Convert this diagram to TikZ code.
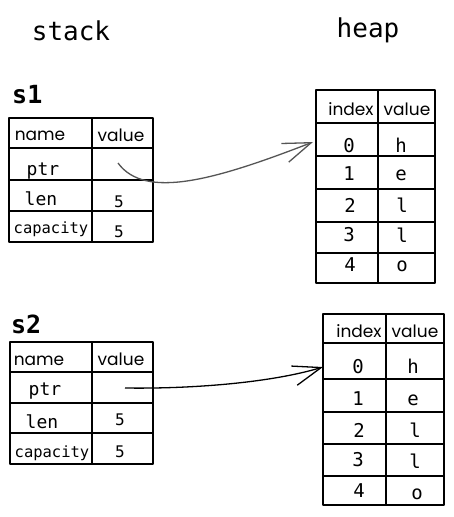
\documentclass[tikz,border=0pt]{standalone}
\usepackage{fontspec}
\setmonofont{DejaVu Sans Mono}
\newfontfamily\handfont{Poppins}
\usetikzlibrary{arrows.meta}
\definecolor{arrowgray}{RGB}{85,85,85}
\tikzset{
  grid/.style={line width=1.2pt, line join=round},
  thick sep/.style={line width=2pt},
  hand/.style={font=\handfont\fontsize{17}{17}\selectfont, anchor=base, inner sep=0pt},
  code/.style={font=\ttfamily\fontsize{18}{18}\selectfont, anchor=base, inner sep=0pt},
  codesmall/.style={font=\ttfamily\fontsize{15.5}{15.5}\selectfont, anchor=base, inner sep=0pt},
  num/.style={font=\ttfamily\fontsize{16}{16}\selectfont, anchor=base, inner sep=0pt},
  heapnum/.style={font=\ttfamily\fontsize{19}{19}\selectfont, anchor=base, inner sep=0pt},
  title/.style={font=\ttfamily\fontsize{26}{26}\selectfont, anchor=base, inner sep=0pt},
  varname/.style={font=\ttfamily\bfseries\fontsize{25}{25}\selectfont, anchor=base west, inner sep=0pt},
  ptrarrow/.style={line width=1.3pt, -{Straight Barb[length=28pt, width=20pt, line width=1.3pt]}},
}
\begin{document}
\begin{tikzpicture}[x=1pt, y=-1pt]
\useasboundingbox (0,0) rectangle (454,517);
\fill[white] (0,0) rectangle (454,517);

% titles
\node[title] (stack) at (71,40) {stack};
\node[title] (heap) at (368,37) {heap};
\node[varname] (s1) at (12,103) {s1};
\node[varname] (s2) at (11,333) {s2};

% ---------- stack table s1 ----------
\draw[grid] (9,118) rectangle (153,242);
\draw[grid] (92,118) -- (92,242);
\draw[grid] (9,148) -- (153,148);
\draw[grid] (9,180) -- (153,180);
\draw[grid] (9,211) -- (153,211);
\node[hand] (s1hn) at (40,140) {name};
\node[hand] (s1hv) at (121,141) {value};
\node[code] (s1ptr) at (43,175) {ptr};
\node[code] (s1len) at (41,205) {len};
\node[codesmall] (s1cap) at (51,233) {capacity};
\node[num] (s1lenv) at (119,207) {5};
\node[num] (s1capv) at (119,237) {5};

% ---------- stack table s2 ----------
\draw[grid] (10,342) rectangle (153,464);
\draw[grid] (92,342) -- (92,464);
\draw[grid] (10,372) -- (153,372);
\draw[grid] (10,403) -- (153,403);
\draw[grid] (10,433) -- (153,433);
\node[hand] (s2hn) at (39,365) {name};
\node[hand] (s2hv) at (121,365) {value};
\node[code] (s2ptr) at (45,395) {ptr};
\node[code] (s2len) at (42,428) {len};
\node[codesmall] (s2cap) at (52,457) {capacity};
\node[num] (s2lenv) at (120,425) {5};
\node[num] (s2capv) at (120,457) {5};

% ---------- heap table 1 ----------
\draw[grid] (316,90) rectangle (435,283);
\draw[grid] (378,90) -- (378,283);
\draw[grid, thick sep] (316,123) -- (435,123);
\draw[grid] (316,156) -- (435,156);
\draw[grid] (316,189) -- (435,189);
\draw[grid] (316,222) -- (435,222);
\draw[grid] (316,253) -- (435,253);
\node[hand] (h1hi) at (351,115) {index};
\node[hand] (h1hv) at (407,115) {value};
\node[heapnum] (h1i0) at (349,152) {0};
\node[heapnum] (h1i1) at (349,180) {1};
\node[heapnum] (h1i2) at (350,212) {2};
\node[heapnum] (h1i3) at (349,241) {3};
\node[heapnum] (h1i4) at (350,271) {4};
\node[heapnum] (h1v0) at (401,152) {h};
\node[heapnum] (h1v1) at (401,180) {e};
\node[heapnum] (h1v2) at (402,212) {l};
\node[heapnum] (h1v3) at (402,242) {l};
\node[heapnum] (h1v4) at (402,271) {o};

% ---------- heap table 2 ----------
\draw[grid] (323,314) rectangle (444,505);
\draw[grid] (386,314) -- (386,505);
\draw[grid, thick sep] (323,343) -- (444,343);
\draw[grid] (323,379) -- (444,379);
\draw[grid] (323,412) -- (444,412);
\draw[grid] (323,444) -- (444,444);
\draw[grid] (323,476) -- (444,476);
\node[hand] (h2hi) at (359,337) {index};
\node[hand] (h2hv) at (415,337) {value};
\node[heapnum] (h2i0) at (358,373) {0};
\node[heapnum] (h2i1) at (358,405) {1};
\node[heapnum] (h2i2) at (359,437) {2};
\node[heapnum] (h2i3) at (358,466) {3};
\node[heapnum] (h2i4) at (359,497) {4};
\node[heapnum] (h2v0) at (413,373) {h};
\node[heapnum] (h2v1) at (413,405) {e};
\node[heapnum] (h2v2) at (415,437) {l};
\node[heapnum] (h2v3) at (415,468) {l};
\node[heapnum] (h2v4) at (417,499) {o};

% ---------- pointers ----------
\coordinate (s1p) at (118,163);
\coordinate (h1in) at (313,142);
\coordinate (s2p) at (125,388);
\coordinate (h2in) at (323,367);
\draw[ptrarrow, arrowgray] (s1p) .. controls (145,200) and (215,180) .. (h1in);
\draw[ptrarrow, black] (s2p) .. controls (190,389) and (270,383) .. (h2in);
\end{tikzpicture}
\end{document}
